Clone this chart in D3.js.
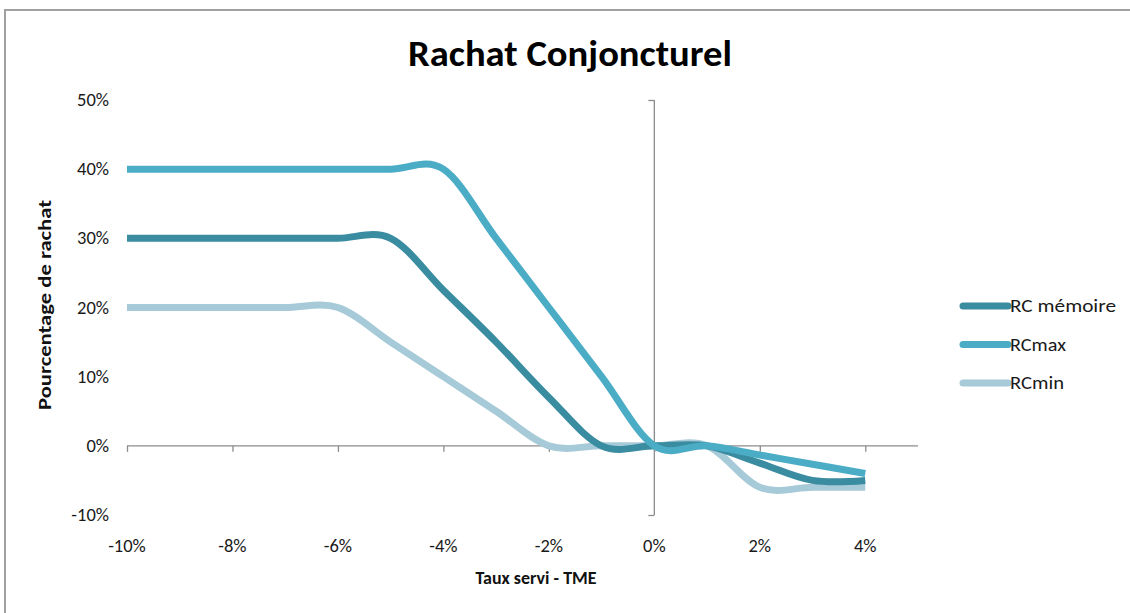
<!DOCTYPE html>
<html>
<head>
<meta charset="utf-8">
<script src="https://cdn.jsdelivr.net/npm/d3@7"></script>
<style>
  body { margin: 0; background: #fff; }
  text { font-family: Carlito, "Open Sans", sans-serif; }
</style>
</head>
<body>
<svg id="chart"></svg>
<script>
// x values (Taux servi - TME, in %)
const taux = [-10, -9, -8, -7, -6, -5, -4, -3, -2, -1, 0, 1, 2, 3, 4];

// series values (Pourcentage de rachat, in %)
const rcMemoire = [30, 30, 30, 30, 30, 30, 22.5, 15, 7, 0, 0, 0, -2.5, -5, -5];
const rcMax = [40, 40, 40, 40, 40, 40, 40, 30, 20, 10, 0, 0, -1.33, -2.67, -4];
const rcMin = [20, 20, 20, 20, 20, 15, 10, 5, 0, 0, 0, 0, -6, -6, -6];

const seriesNames = ["RC mémoire", "RCmax", "RCmin"];
const seriesColors = ["#3A8CA0", "#4BACC6", "#A6CAD7"];
const legendWidths = [106, 56, 54];

const xTicks = [-10, -8, -6, -4, -2, 0, 2, 4];
const yTicks = [-10, 0, 10, 20, 30, 40, 50];

const W = 1130, H = 613;
const svg = d3.select("#chart").attr("width", W).attr("height", H);

// chart frame
svg.append("rect")
  .attr("x", 5).attr("y", 10)
  .attr("width", W + 20).attr("height", H + 20)
  .attr("fill", "#fff").attr("stroke", "#a0a0a0").attr("stroke-width", 2);

const x = d3.scaleLinear().domain([-10, 5]).range([127, 918]);
const y = d3.scaleLinear().domain([-10, 50]).range([515, 100]);

const axisColor = "#8c8c8c";

// x axis (at y = 0)
const xAxis = svg.append("g")
  .attr("transform", `translate(0,${y(0)})`)
  .call(d3.axisBottom(x).tickValues(xTicks).tickSize(6).tickFormat(""));
xAxis.select(".domain").attr("stroke", axisColor).attr("stroke-width", 1.3).attr("d", `M${x(-10)},0H${x(5)}`);
xAxis.selectAll(".tick line").attr("stroke", axisColor).attr("stroke-width", 1.3);

// y axis (at x = 0)
const yAxis = svg.append("g")
  .attr("transform", `translate(${x(0)},0)`)
  .call(d3.axisLeft(y).tickValues([-10, 50]).tickSize(6).tickFormat(""));
yAxis.select(".domain").attr("stroke", axisColor).attr("stroke-width", 1.3).attr("d", `M0,${y(50)}V${y(-10)}`);
yAxis.selectAll(".tick line").attr("stroke", axisColor).attr("stroke-width", 1.3);

// tick labels (low position)
svg.append("g").selectAll("text")
  .data(xTicks).join("text")
  .attr("x", d => x(d)).attr("y", 552)
  .attr("text-anchor", "middle")
  .attr("font-size", 18.5).attr("fill", "#1a1a1a")
  .text(d => d + "%");

svg.append("g").selectAll("text")
  .data(yTicks).join("text")
  .attr("x", 109).attr("y", d => y(d) + 6)
  .attr("text-anchor", "end")
  .attr("font-size", 18.5).attr("fill", "#1a1a1a")
  .text(d => d + "%");

// lines
const seriesData = [rcMemoire, rcMax, rcMin];
const line = d3.line()
  .x((d, i) => x(taux[i]))
  .y(d => y(d))
  .curve(d3.curveCardinal.tension(0));

svg.append("g").selectAll("path")
  .data([2, 0, 1]).join("path")
  .attr("d", k => line(seriesData[k]))
  .attr("fill", "none")
  .attr("stroke", k => seriesColors[k])
  .attr("stroke-width", 7)
  .attr("stroke-linejoin", "round");

// title
svg.append("text")
  .attr("x", 570).attr("y", 66)
  .attr("text-anchor", "middle")
  .attr("font-size", 37).attr("font-weight", "bold").attr("fill", "#000")
  .attr("textLength", 324).attr("lengthAdjust", "spacingAndGlyphs")
  .text("Rachat Conjoncturel");

// axis titles
svg.append("text")
  .attr("x", 536).attr("y", 584)
  .attr("text-anchor", "middle")
  .attr("font-size", 18).attr("font-weight", "bold").attr("fill", "#111")
  .attr("textLength", 121).attr("lengthAdjust", "spacingAndGlyphs")
  .text("Taux servi - TME");

svg.append("text")
  .attr("transform", "translate(51,305) rotate(-90)")
  .attr("text-anchor", "middle")
  .attr("font-size", 18.5).attr("font-weight", "bold").attr("fill", "#111")
  .attr("textLength", 210).attr("lengthAdjust", "spacingAndGlyphs")
  .text("Pourcentage de rachat");

// legend
const legend = svg.append("g").selectAll("g")
  .data(seriesNames).join("g")
  .attr("transform", (d, i) => `translate(963,${306 + i * 38.5})`);
legend.append("line")
  .attr("x1", 0).attr("x2", 45)
  .attr("stroke", (d, i) => seriesColors[i])
  .attr("stroke-width", 7).attr("stroke-linecap", "round");
legend.append("text")
  .attr("x", 47).attr("y", 6)
  .attr("font-size", 18).attr("fill", "#1a1a1a")
  .attr("textLength", (d, i) => legendWidths[i]).attr("lengthAdjust", "spacingAndGlyphs")
  .text(d => d);
</script>
</body>
</html>
